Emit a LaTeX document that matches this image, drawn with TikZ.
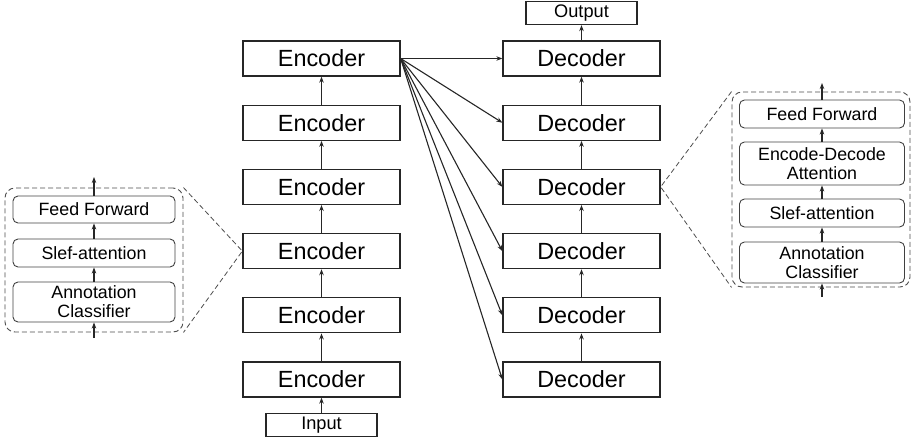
\documentclass[tikz,border=0pt]{standalone}
\usepackage{fontspec}
\setmainfont{Liberation Sans}
\usetikzlibrary{arrows.meta}
\begin{document}
\begin{tikzpicture}[x=1pt,y=-1pt,
  big/.style={draw=black!85,line width=1.3pt,minimum width=157pt,minimum height=35pt,inner sep=0pt,font=\fontsize{23.4}{26}\selectfont},
  io/.style={draw=black!85,line width=1.3pt,minimum width=111pt,minimum height=23pt,inner sep=0pt,font=\fontsize{18.2}{20}\selectfont},
  sub/.style={draw=black!75,line width=0.9pt,rounded corners=5pt,inner sep=0pt,align=center,font=\fontsize{17.8}{19}\selectfont},
  grp/.style={draw=black!70,line width=0.9pt,dash pattern=on 5pt off 3pt,rounded corners=10pt},
  zoomline/.style={draw=black!70,line width=0.8pt,dash pattern=on 5pt off 3pt},
  arr/.style={-{Stealth[length=6pt,width=4.5pt]},line width=1.1pt,black!85},
]
\useasboundingbox (0,0) rectangle (913,444);
% encoders
\foreach \i/\y in {1/58.5,2/122.7,3/186.9,4/251.1,5/315.3,6/379.5}{
  \node[big] (e\i) at (321.5,\y) {Encoder};
  \node[big] (d\i) at (581.5,\y) {Decoder};
}
\node[io] (in) at (321.5,425) {Input};
\node[io] (out) at (581.5,13) {Output};
\draw[arr] (in) -- (e6);
\foreach \a/\b in {6/5,5/4,4/3,3/2,2/1}{
  \draw[arr] (e\a) -- (e\b);
  \draw[arr] (d\a) -- (d\b);
}
\draw[arr] (d1) -- (out);
\foreach \i in {1,...,6}{
  \draw[arr] (e1.east) -- (d\i.west);
}
% left group
\node[grp,minimum width=178pt,minimum height=144pt,inner sep=0pt] (lg) at (94,260) {};
\node[sub,minimum width=162pt,minimum height=27pt] (lff) at (94,209.5) {Feed Forward};
\node[sub,minimum width=162pt,minimum height=28pt] (lsa) at (94,253) {Slef-attention};
\node[sub,minimum width=162pt,minimum height=40pt] (lac) at (94,302) {Annotation\\Classifier};
\coordinate (ltop) at (94,177);
\coordinate (lbot) at (94,338);
\draw[arr] (lbot) -- (lac);
\draw[arr] (lac) -- (lsa);
\draw[arr] (lsa) -- (lff);
\draw[arr] (lff) -- (ltop);
\draw[zoomline] (lg.north east) -- (e4.west) -- (lg.south east);
% right group
\node[grp,minimum width=178pt,minimum height=195pt,inner sep=0pt] (rg) at (821,189.5) {};
\node[sub,minimum width=165pt,minimum height=28pt] (rff) at (822,114) {Feed Forward};
\node[sub,minimum width=165pt,minimum height=43pt] (rea) at (822,163.5) {Encode-Decode\\Attention};
\node[sub,minimum width=165pt,minimum height=28pt] (rsa) at (822,213) {Slef-attention};
\node[sub,minimum width=165pt,minimum height=41pt] (rac) at (822,262.5) {Annotation\\Classifier};
\coordinate (rtop) at (822,83);
\coordinate (rbot) at (822,297);
\draw[arr] (rbot) -- (rac);
\draw[arr] (rac) -- (rsa);
\draw[arr] (rsa) -- (rea);
\draw[arr] (rea) -- (rff);
\draw[arr] (rff) -- (rtop);
\draw[zoomline] (rg.north west) -- (d3.east) -- (rg.south west);
\end{tikzpicture}
\end{document}
